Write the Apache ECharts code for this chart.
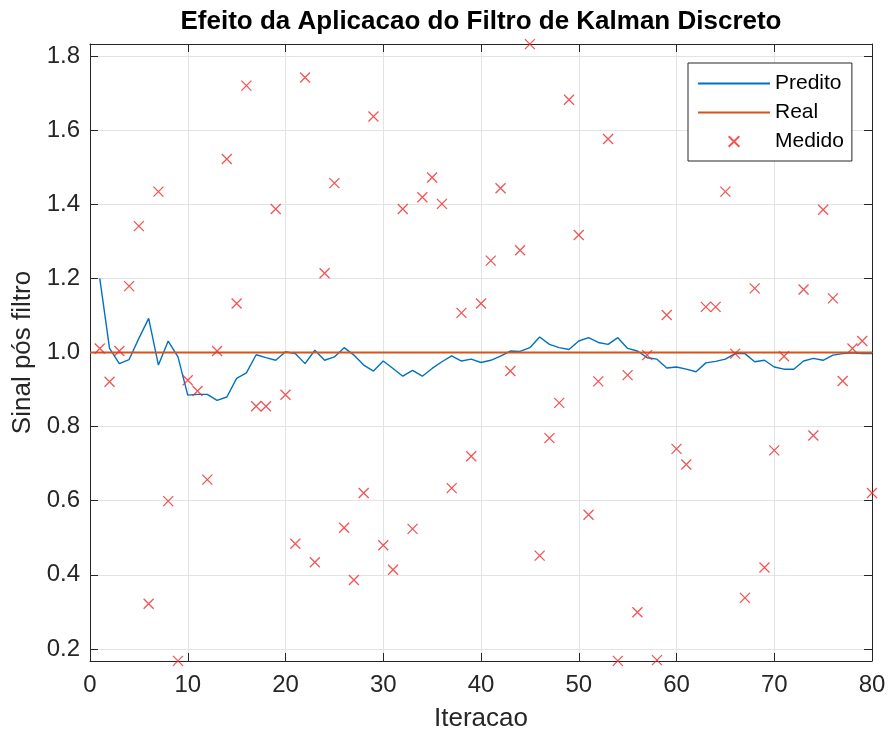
<!DOCTYPE html>
<html><head><meta charset="utf-8">
<script src="https://cdn.jsdelivr.net/npm/echarts@6/dist/echarts.min.js"></script>
<style>html,body{margin:0;padding:0;background:#fff}#c{width:888px;height:733px}</style>
</head><body><div id="c"></div>
<script>
const iteracoes = [1,2,3,4,5,6,7,8,9,10,11,12,13,14,15,16,17,18,19,20,21,22,23,24,25,26,27,28,29,30,31,32,33,34,35,36,37,38,39,40,41,42,43,44,45,46,47,48,49,50,51,52,53,54,55,56,57,58,59,60,61,62,63,64,65,66,67,68,69,70,71,72,73,74,75,76,77,78,79,80];
const predito = [1.2,1.011,0.97,0.981,1.038,1.092,0.966,1.031,0.988,0.885,
  0.887,0.887,0.871,0.88,0.93,0.945,0.994,0.986,0.979,1.002,
  0.997,0.97,1.006,0.979,0.988,1.013,0.993,0.966,0.95,0.977,
  0.957,0.936,0.952,0.936,0.957,0.975,0.991,0.977,0.982,0.973,
  0.979,0.99,1.004,1.003,1.013,1.042,1.022,1.013,1.008,1.031,
  1.04,1.027,1.022,1.04,1.011,1.004,0.986,0.982,0.958,0.961,
  0.955,0.948,0.972,0.976,0.982,0.997,0.997,0.975,0.979,0.961,
  0.955,0.955,0.977,0.984,0.979,0.993,0.997,0.999,0.997,0.997];
const medido = [1.011,0.921,1.004,1.179,1.341,0.322,1.434,0.599,0.168,0.925,
  0.896,0.657,1.004,1.522,1.132,1.720,0.855,0.855,1.387,0.886,
  0.484,1.742,0.434,1.214,1.457,0.527,0.386,0.621,1.637,0.480,
  0.414,1.387,0.524,1.419,1.472,1.401,0.634,1.107,0.720,1.132,
  1.248,1.443,0.950,1.276,1.832,0.452,0.769,0.864,1.682,1.317,
  0.562,0.922,1.576,0.168,0.939,0.299,0.993,0.170,1.101,0.740,
  0.698,1.700,1.123,1.123,1.434,0.997,0.338,1.173,0.420,0.736,
  0.990,1.620,1.170,0.776,1.385,1.146,0.923,1.011,1.031,0.621];
const realX = [0, 80];
const realY = [1, 1];
const xTicks = [0,10,20,30,40,50,60,70,80];
const yTicks = [0.2,0.4,0.6,0.8,1.0,1.2,1.4,1.6,1.8];
const yMin = 0.1676, yMax = 1.8324;

const FONT = 'Liberation Sans, Arial, sans-serif';
const AX = '#262626';
const chart = echarts.init(document.getElementById('c'), null, {renderer:'canvas'});
const xSym = 'path://M0,0L10,10M0,10L10,0';

function yAxisBase(pos, showLabel) {
  return {
    type:'value', position: pos, min: yMin, max: yMax,
    axisLine:{show:true, onZero:false, lineStyle:{color:AX, width:1}},
    axisTick:{show:true, inside:true, length:8, customValues: yTicks, lineStyle:{color:AX}},
    axisLabel:{show:showLabel, customValues: yTicks, fontSize:24, color:AX, fontFamily:FONT, margin:10,
      formatter: v => v.toFixed(1)},
    splitLine:{show:showLabel, lineStyle:{color:'#e3e3e3', width:1}}
  };
}

const hiddenSymbol = {color:'transparent', borderColor:'transparent', borderWidth:0};

const option = {
  animation:false,
  backgroundColor:'#ffffff',
  title:{text:'Efeito da Aplicacao do Filtro de Kalman Discreto', left:476, top:4, textAlign:'center',
    textStyle:{fontSize:26, fontWeight:'bold', color:'#000', fontFamily:FONT}},
  grid:{left:90, right:16, top:44, bottom:72, containLabel:false, outerBoundsMode:'none'},
  legend:{
    orient:'vertical', left:688, top:63, z:20,
    data:[{name:'Predito', itemStyle:hiddenSymbol},{name:'Real', itemStyle:hiddenSymbol},
      {name:'Medido', icon:'path://M-3,-3M13,13M0,0L10,10M0,10L10,0'}],
    itemWidth:72, itemHeight:17, itemGap:8,
    padding:[10,8,9,9],
    backgroundColor:'#ffffff', borderColor:AX, borderWidth:1,
    textStyle:{fontSize:21, color:'#000', fontFamily:FONT, lineHeight:17}
  },
  xAxis:[{
    type:'value', position:'bottom', min:0, max:80, interval:10,
    axisLine:{show:true, onZero:false, lineStyle:{color:AX, width:1}},
    axisTick:{show:true, inside:true, length:8, lineStyle:{color:AX}},
    axisLabel:{fontSize:24, color:AX, fontFamily:FONT, margin:12},
    splitLine:{show:true, lineStyle:{color:'#e3e3e3', width:1}},
    name:'Iteracao', nameLocation:'middle', nameGap:45,
    nameTextStyle:{fontSize:26, color:AX, fontFamily:FONT}
  },{
    type:'value', position:'top', min:0, max:80, interval:10,
    axisLine:{show:true, onZero:false, lineStyle:{color:AX, width:1}},
    axisTick:{show:true, inside:true, length:8, lineStyle:{color:AX}},
    axisLabel:{show:false}, splitLine:{show:false}
  }],
  yAxis:[Object.assign(yAxisBase('left', true), {
      name:'Sinal pós filtro', nameLocation:'middle', nameGap:52,
      nameTextStyle:{fontSize:26, color:AX, fontFamily:FONT}}),
    yAxisBase('right', false)],
  series:[
    {name:'Predito', type:'line', xAxisIndex:0, yAxisIndex:0, showSymbol:false, symbol:'none',
      data: iteracoes.map((x,i)=>[x, predito[i]]),
      lineStyle:{color:'#0072BD', width:1.4}, itemStyle:{color:'#0072BD'}, z:2},
    {name:'Real', type:'line', xAxisIndex:0, yAxisIndex:0, showSymbol:false, symbol:'none',
      data: realX.map((x,i)=>[x, realY[i]]),
      lineStyle:{color:'#D95319', width:2}, itemStyle:{color:'#D95319'}, z:2},
    {name:'Medido', type:'scatter', xAxisIndex:0, yAxisIndex:0, symbol:xSym, symbolSize:10,
      data: iteracoes.map((x,i)=>[x, medido[i]]),
      itemStyle:{color:'transparent', borderColor:'#EE2A2A', borderWidth:1.3}, z:3}
  ]
};
chart.setOption(option);
</script></body></html>
